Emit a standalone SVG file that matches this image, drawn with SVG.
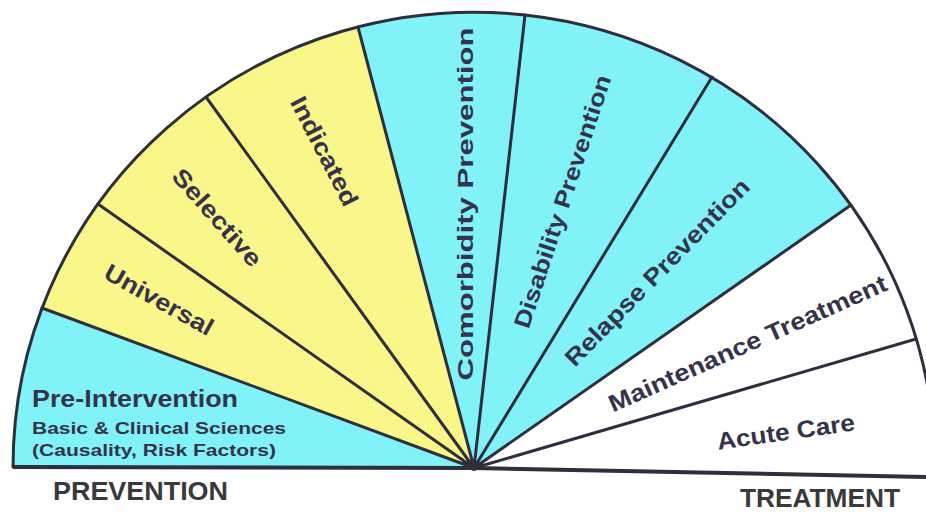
<svg xmlns="http://www.w3.org/2000/svg" width="926" height="512" viewBox="0 0 926 512">
<defs>
<style>
.cy{fill:#80f2f8}
.ye{fill:#f9f68a}
.wh{fill:#ffffff}
.ln{fill:none;stroke:#2f2e3c;stroke-width:3;stroke-linecap:round}
.base{fill:none;stroke:#2f2e3c;stroke-width:4}
.lb{font-family:"Liberation Sans",Arial,sans-serif;font-weight:bold;fill:#35334a;font-size:24px}
.big{font-family:"Liberation Sans",Arial,sans-serif;font-weight:bold;fill:#3a3a3a}
</style>
</defs>
<rect width="926" height="512" fill="#ffffff"/>
<g id="pre-intervention">
<path class="cy" d="M474 468 L13 467 A461 455 0 0 1 42 308 Z"/>
<text class="lb" x="32" y="407" textLength="206" lengthAdjust="spacingAndGlyphs">Pre-Intervention</text>
<text class="lb" x="32" y="434" textLength="254" lengthAdjust="spacingAndGlyphs" style="font-size:16.5px">Basic &amp; Clinical Sciences</text>
<text class="lb" x="32" y="456" textLength="244" lengthAdjust="spacingAndGlyphs" style="font-size:16.5px">(Causality, Risk Factors)</text>
</g>
<g id="universal">
<path class="ye" d="M474 468 L42 308 A461 455 0 0 1 98 204 Z"/>
<text class="lb" text-anchor="middle" transform="translate(155 307) rotate(29.2)" textLength="121" lengthAdjust="spacingAndGlyphs">Universal</text>
</g>
<g id="selective">
<path class="ye" d="M474 468 L98 204 A461 455 0 0 1 206 97 Z"/>
<text class="lb" text-anchor="middle" transform="translate(211 223) rotate(48.5)" textLength="122" lengthAdjust="spacingAndGlyphs">Selective</text>
</g>
<g id="indicated">
<path class="ye" d="M474 468 L206 97 A461 455 0 0 1 358 27 Z"/>
<text class="lb" text-anchor="middle" transform="translate(317 155) rotate(62.7)" textLength="120" lengthAdjust="spacingAndGlyphs">Indicated</text>
</g>
<g id="comorbidity-prevention">
<path class="cy" d="M474 468 L358 27 A461 455 0 0 1 525 15 Z"/>
<text class="lb" text-anchor="middle" transform="translate(473 204) rotate(-90)" textLength="353" lengthAdjust="spacingAndGlyphs" style="font-size:22px">Comorbidity Prevention</text>
</g>
<g id="disability-prevention">
<path class="cy" d="M474 468 L525 15 A461 455 0 0 1 712 77 Z"/>
<text class="lb" text-anchor="middle" transform="translate(570 204) rotate(-71.8)" textLength="265" lengthAdjust="spacingAndGlyphs" style="font-size:23px">Disability Prevention</text>
</g>
<g id="relapse-prevention">
<path class="cy" d="M474 468 L712 77 A461 455 0 0 1 851 205 Z"/>
<text class="lb" text-anchor="middle" transform="translate(663 278) rotate(-45.5)" textLength="252" lengthAdjust="spacingAndGlyphs">Relapse Prevention</text>
</g>
<g id="maintenance-treatment">
<path class="wh" d="M474 468 L851 205 A461 455 0 0 1 916 339 Z"/>
<text class="lb" text-anchor="middle" transform="translate(751 351) rotate(-24)" textLength="302" lengthAdjust="spacingAndGlyphs">Maintenance Treatment</text>
</g>
<g id="acute-care">
<path class="wh" d="M474 468 L916 339 A461 455 0 0 1 935 467 Z"/>
<text class="lb" text-anchor="middle" transform="translate(787 440) rotate(-8)" textLength="139" lengthAdjust="spacingAndGlyphs">Acute Care</text>
</g>
<g id="connectors">
<path class="ln" d="M13 467 A461 455 0 0 1 525 15 A461 455 0 0 1 935 467"/>
<path class="ln" d="M474 468 L42 308 M474 468 L98 204 M474 468 L206 97 M474 468 L358 27 M474 468 L525 15 M474 468 L712 77 M474 468 L851 205 M474 468 L916 339"/>
<polyline class="base" points="13,467 474,468 926,477"/>
<circle cx="474" cy="466" r="5" fill="#2f2e3c"/>
</g>
<g id="axis-labels">
<text class="big" x="53" y="500" textLength="175" lengthAdjust="spacingAndGlyphs" style="font-size:25px">PREVENTION</text>
<text class="big" x="740" y="507" textLength="160" lengthAdjust="spacingAndGlyphs" style="font-size:26px">TREATMENT</text>
</g>
</svg>
